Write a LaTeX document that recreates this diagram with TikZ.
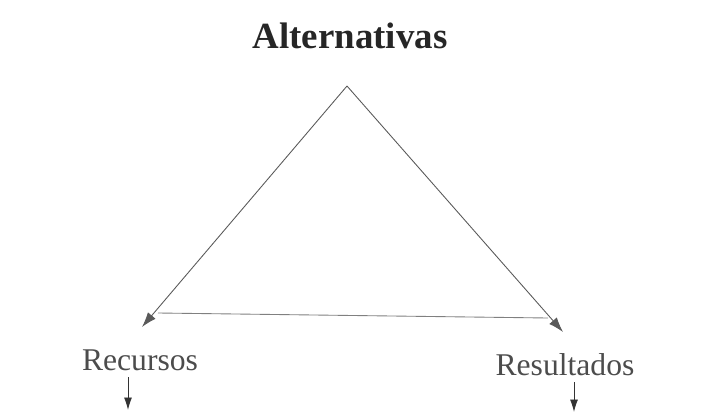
\documentclass[tikz,border=0pt]{standalone}
\usepackage{fontspec}
\setmainfont{Liberation Serif}
\usetikzlibrary{arrows.meta}

\begin{document}
\begin{tikzpicture}[
  titulo/.style={font=\fontsize{21}{24}\selectfont\bfseries, text=black!85},
  etiq/.style={font=\fontsize{18}{21}\selectfont, text=black!70},
  flecha/.style={-{Latex[length=3mm,width=2mm]}, black!65, line width=0.5pt},
  base/.style={black!50, line width=0.5pt},
  baja/.style={-{Latex[length=2.5mm,width=1.6mm]}, black!80, line width=0.5pt}
]
\useasboundingbox (0,0) rectangle (14.26,8.36);

%% ===== Triangulo =====
\node[titulo] (alt) at (7.0,7.64) {Alternativas};
\coordinate (cima) at (6.94,6.64);
\coordinate (izq) at (2.84,1.82);
\coordinate (der) at (11.26,1.72);
\coordinate (bizq) at (3.16,2.10);
\coordinate (bder) at (10.96,2.00);

\draw[flecha] (cima) -- (izq);
\draw[flecha] (cima) -- (der);
\draw[base] (bizq) -- (bder);

%% ===== Etiquetas =====
\node[etiq] (rec) at (2.8,1.16) {Recursos};
\node[etiq] (res) at (11.3,1.06) {Resultados};

\coordinate (rec-ini) at (2.56,0.82);
\coordinate (rec-fin) at (2.56,0.16);
\coordinate (res-ini) at (11.48,0.72);
\coordinate (res-fin) at (11.48,0.12);
\draw[baja] (rec-ini) -- (rec-fin);
\draw[baja] (res-ini) -- (res-fin);
\end{tikzpicture}
\end{document}
